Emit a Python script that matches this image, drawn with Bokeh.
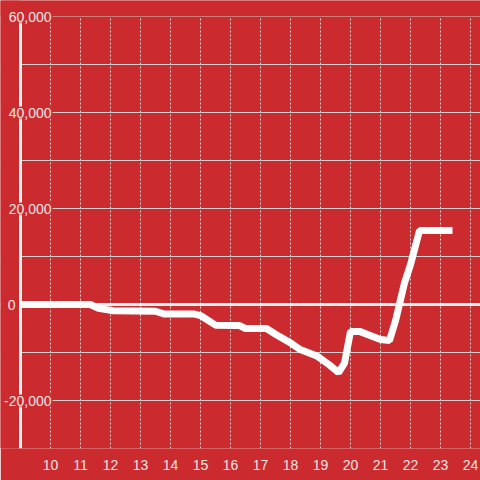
from bokeh.plotting import figure
from bokeh.embed import file_html
from bokeh.resources import INLINE
from bokeh.models import ColumnDataSource, FixedTicker, Label, Span, BoxAnnotation

# ---- data ----
hours = [9.0, 11.33, 11.6, 12.1, 13.5, 13.8, 14.8, 15.0, 15.5, 16.3, 16.5, 17.2, 17.5,
         18.0, 18.3, 18.9, 19.3, 19.6, 19.8, 20.0, 20.3, 21.0, 21.3, 21.5, 21.8, 22.0,
         22.3, 23.4]
values = [0, 0, -800, -1300, -1400, -2000, -2000, -2300, -4300, -4400, -5000, -5000, -6200,
          -8000, -9300, -10800, -12600, -14200, -12200, -5600, -5600, -7300, -7500, -3400,
          4500, 8300, 15400, 15400]
x_ticks = list(range(10, 25))
y_grid_ticks = list(range(-30000, 60001, 10000))
y_label_ticks = [60000, 40000, 20000, 0, -20000]
y_label_texts = ["60,000", "40,000", "20,000", "0", "-20,000"]
x_axis_at = 9.0
y_min, y_max = -30000, 60000

RED = "#cb2a2f"
TXT = "#f2e6e6"
FONT = "Liberation Sans"

# frame spans the full canvas width and reaches the top edge (label room)
p = figure(width=480, height=480,
           x_range=(x_axis_at - 20 / 30, 24.333),
           y_range=(y_min, y_max + 16 / 48 * 10000),
           output_backend="svg", toolbar_location=None,
           background_fill_color=RED, border_fill_color=RED, outline_line_color=None,
           min_border_left=0, min_border_right=0, min_border_top=0, min_border_bottom=32)

# grids
p.xgrid.ticker = FixedTicker(ticks=x_ticks)
p.xgrid.grid_line_color = "#dddddd"
p.xgrid.grid_line_dash = "2 2"
p.xgrid.grid_line_width = 1
p.ygrid.ticker = FixedTicker(ticks=y_grid_ticks)
p.ygrid.grid_line_color = "#cfcfcf"
p.ygrid.grid_line_width = 1

# x axis
p.xaxis.ticker = FixedTicker(ticks=x_ticks)
p.xaxis.axis_line_color = None
p.xaxis.major_tick_line_color = None
p.xaxis.minor_tick_line_color = None
p.xaxis.major_label_text_color = TXT
p.xaxis.major_label_text_font = FONT
p.xaxis.major_label_text_font_size = "14px"
p.xaxis.major_label_standoff = 5

p.yaxis.visible = False

zero = Span(location=0, dimension="width", line_color="#f2f2f2", line_width=3, level="underlay")
p.add_layout(zero)
gutter = BoxAnnotation(right=x_axis_at, fill_color=RED, fill_alpha=1.0, line_color=None,
                       level="underlay")
p.add_layout(gutter)
topstrip = BoxAnnotation(bottom=y_max, fill_color=RED, fill_alpha=1.0, line_color=None,
                         level="underlay")
p.add_layout(topstrip)

# y axis line
p.segment(x0=[x_axis_at], y0=[y_min], x1=[x_axis_at], y1=[y_max],
          line_color="#f2f2f2", line_width=3)

src = ColumnDataSource(dict(x=hours, y=values))
p.line("x", "y", source=src, line_color="white", line_width=7)

for tick, txt in zip(y_label_ticks, y_label_texts):
    p.add_layout(Label(x=x_axis_at, y=tick, text=txt,
                       x_offset=(32 if len(txt) > 1 else -4),
                       text_align="right", text_baseline="middle",
                       text_color=TXT, text_font=FONT, text_font_size="14px",
                       background_fill_color=RED, background_fill_alpha=1.0,
                       padding=1))

html = file_html(p, INLINE)
html = html.replace("<body>", '<body style="margin:0;background:%s">' % RED, 1)
open("out.html", "w").write(html)
